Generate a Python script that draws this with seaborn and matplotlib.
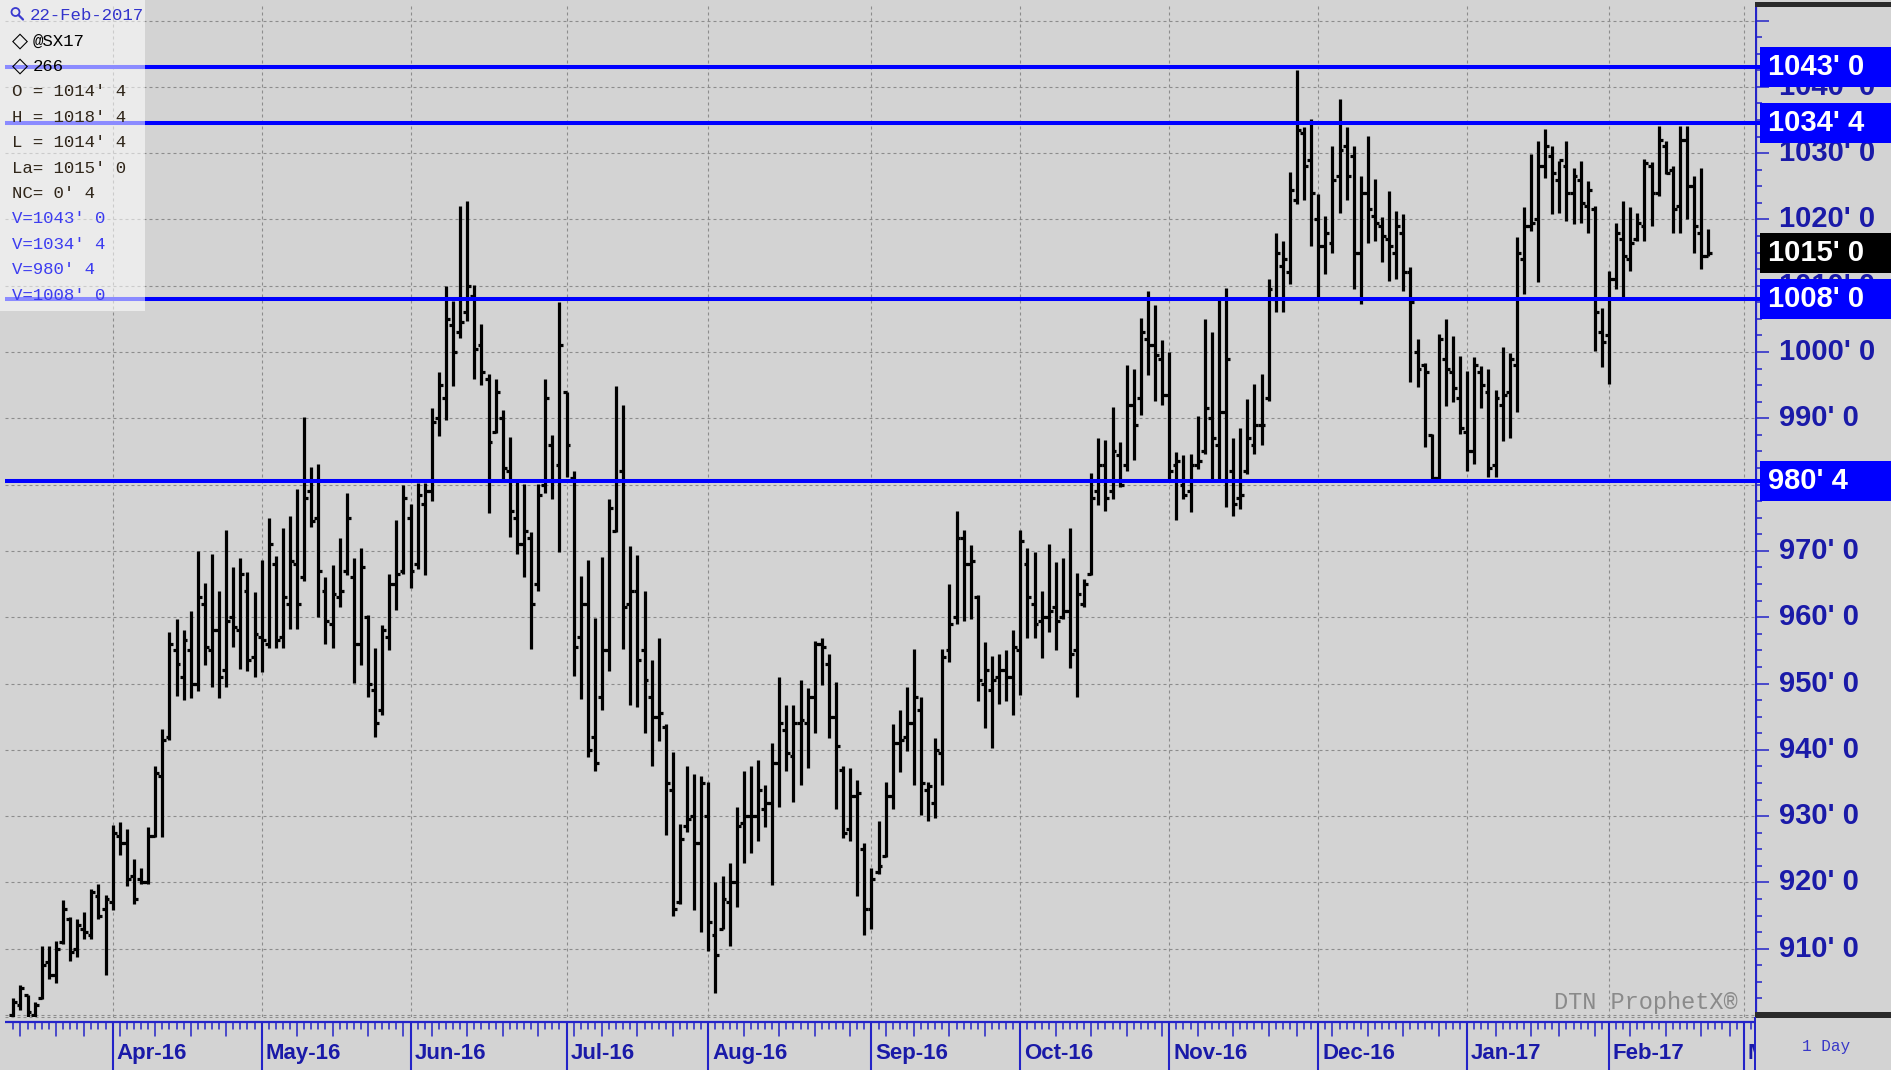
import numpy as np
import pandas as pd
import matplotlib
matplotlib.use("Agg")
import matplotlib.pyplot as plt
from matplotlib.patches import Rectangle, Circle
from matplotlib import font_manager as fm
import seaborn as sns

# ---------------- data ----------------
high = [902.5, 904.6, 903.0, 902.0, 910.4, 910.4, 911.2, 917.3, 914.8, 914.5,
        915.6, 919.0, 919.8, 918.1, 928.6, 929.1, 928.0, 923.6, 922.2, 928.3,
        937.6, 943.1, 957.7, 959.7, 958.0, 961.0, 970.0, 965.2, 969.6, 964.0,
        973.1, 967.6, 969.0, 966.8, 963.8, 968.7, 975.0, 969.2, 973.4, 975.2,
        979.4, 990.2, 982.6, 983.1, 966.0, 967.9, 972.0, 978.8, 969.0, 970.4,
        960.4, 955.4, 958.8, 966.5, 974.7, 979.9, 977.1, 980.2, 980.2, 991.6,
        997.0, 1009.9, 1007.7, 1022.0, 1022.8, 1010.1, 1004.2, 996.7, 996.0, 991.3,
        987.2, 980.4, 980.1, 972.9, 980.1, 996.0, 987.5, 1007.6, 994.0, 982.0,
        966.2, 968.6, 959.9, 969.1, 977.8, 994.9, 992.0, 970.7, 969.4, 964.0,
        953.5, 956.9, 943.9, 939.7, 928.8, 937.6, 936.4, 936.0, 935.1, 920.0,
        920.9, 923.0, 931.3, 936.8, 937.6, 938.5, 934.7, 941.0, 951.0, 946.8,
        946.8, 950.6, 949.3, 956.4, 956.9, 954.4, 950.2, 937.6, 937.2, 935.5,
        925.9, 922.1, 929.2, 935.1, 943.9, 946.0, 949.5, 955.2, 948.0, 935.1,
        941.8, 955.2, 965.0, 976.0, 973.2, 970.9, 963.4, 956.3, 954.1, 954.4,
        955.1, 958.1, 973.2, 970.4, 969.8, 964.0, 971.0, 968.3, 968.9, 973.5,
        966.7, 965.8, 981.8, 987.1, 986.8, 991.7, 986.4, 998.1, 997.5, 1005.2,
        1009.2, 1007.1, 1001.8, 1000.0, 984.9, 984.4, 984.6, 990.4, 1005.0, 1003.0,
        1008.2, 1009.7, 987.1, 988.6, 992.9, 995.2, 996.7, 1011.0, 1018.0, 1016.8,
        1027.1, 1042.6, 1033.9, 1035.1, 1023.8, 1020.5, 1031.1, 1038.1, 1033.9, 1031.1,
        1026.6, 1032.6, 1026.1, 1020.3, 1024.3, 1021.3, 1020.8, 1012.8, 1002.0, 998.4,
        987.6, 1002.7, 1005.0, 1002.4, 999.4, 997.2, 999.2, 997.9, 997.4, 994.2,
        1000.7, 999.9, 1017.3, 1021.8, 1029.8, 1031.8, 1033.6, 1031.1, 1028.8, 1031.8,
        1027.8, 1028.8, 1025.8, 1022.0, 1006.7, 1012.2, 1019.5, 1022.8, 1021.8, 1021.0,
        1029.1, 1028.6, 1034.1, 1031.8, 1028.1, 1034.1, 1034.1, 1026.6, 1027.8, 1018.5]

low = [899.5, 900.8, 899.5, 899.5, 902.4, 905.4, 904.9, 910.7, 908.2, 908.7,
       911.5, 911.5, 914.5, 906.0, 915.9, 924.2, 919.5, 916.7, 919.8, 919.8,
       926.9, 926.9, 941.5, 948.1, 947.5, 947.8, 948.9, 952.8, 949.5, 947.8,
       949.5, 955.5, 952.2, 951.9, 951.0, 951.7, 955.3, 955.3, 955.3, 958.2,
       958.2, 965.5, 973.6, 960.0, 956.0, 955.3, 961.5, 966.3, 950.1, 952.8,
       948.0, 942.0, 945.3, 955.0, 961.1, 966.5, 964.4, 967.3, 966.3, 977.6,
       987.3, 989.7, 994.8, 1002.1, 1004.7, 995.9, 995.0, 975.7, 987.8, 980.6,
       972.1, 969.5, 966.1, 955.2, 964.0, 978.8, 977.8, 969.9, 981.2, 951.1,
       947.7, 938.9, 936.8, 946.0, 951.9, 972.8, 955.2, 946.8, 946.4, 942.6,
       937.6, 941.4, 927.2, 915.0, 916.7, 927.6, 915.9, 912.5, 909.6, 903.3,
       912.9, 910.4, 916.3, 923.0, 924.4, 926.3, 928.4, 919.6, 931.3, 936.8,
       932.2, 934.7, 937.2, 942.6, 949.7, 941.8, 931.0, 926.7, 926.3, 918.0,
       912.1, 912.9, 921.3, 923.8, 931.0, 936.7, 939.8, 934.7, 930.1, 929.2,
       929.7, 934.7, 953.2, 959.0, 959.4, 959.7, 947.3, 943.3, 940.3, 946.9,
       947.3, 945.2, 948.2, 956.9, 956.9, 953.8, 957.8, 955.1, 959.8, 952.3,
       948.0, 961.6, 966.4, 976.9, 976.0, 977.8, 979.7, 982.1, 983.7, 990.5,
       996.6, 992.6, 992.0, 980.5, 974.7, 977.8, 975.8, 982.3, 984.6, 980.6,
       980.6, 976.6, 975.3, 976.3, 981.6, 984.6, 985.9, 992.6, 1006.0, 1006.0,
       1010.2, 1022.3, 1023.0, 1016.0, 1008.0, 1011.7, 1015.0, 1021.0, 1023.0, 1009.5,
       1007.2, 1016.5, 1016.8, 1013.5, 1010.7, 1011.0, 1009.2, 995.4, 994.7, 985.6,
       980.6, 980.6, 991.9, 992.4, 987.6, 982.1, 983.1, 991.6, 981.1, 981.1,
       986.6, 987.1, 990.9, 1008.7, 1018.3, 1010.5, 1026.3, 1020.8, 1021.0, 1019.8,
       1019.3, 1019.5, 1017.9, 1000.2, 997.7, 995.2, 1009.5, 1008.2, 1012.2, 1016.8,
       1016.8, 1019.0, 1023.6, 1026.8, 1018.0, 1018.0, 1020.0, 1015.0, 1012.5, 1014.5]

open_ = [900.0, 901.5, 903.0, 900.0, 902.5, 908.0, 906.0, 911.0, 914.5, 910.0,
         913.0, 912.0, 918.0, 916.0, 917.0, 927.0, 926.0, 921.0, 920.5, 920.0,
         927.0, 936.0, 942.0, 955.0, 951.0, 955.0, 950.0, 962.0, 955.0, 958.0,
         952.0, 960.0, 958.0, 964.0, 954.0, 957.0, 956.0, 968.0, 957.0, 962.0,
         968.0, 966.0, 979.0, 975.0, 964.0, 959.0, 963.0, 967.0, 966.0, 956.0,
         960.0, 949.0, 946.0, 957.0, 965.0, 967.0, 975.0, 968.0, 977.0, 979.0,
         990.0, 993.0, 1004.0, 1003.0, 1006.0, 1008.5, 1001.0, 996.0, 988.0, 990.0,
         982.0, 975.0, 971.0, 972.0, 965.0, 980.0, 986.0, 983.0, 994.0, 981.0,
         957.0, 962.0, 942.0, 948.0, 955.0, 973.0, 982.0, 962.0, 964.0, 955.0,
         948.0, 945.0, 943.5, 934.0, 917.0, 928.5, 930.0, 926.0, 930.0, 912.0,
         913.0, 917.0, 920.0, 929.0, 930.0, 930.0, 931.0, 932.0, 938.0, 943.0,
         939.0, 944.0, 944.0, 948.0, 956.0, 953.0, 945.0, 937.0, 928.0, 933.0,
         925.0, 916.0, 921.5, 924.0, 933.0, 941.0, 942.0, 944.0, 946.0, 934.0,
         932.0, 939.5, 955.0, 960.0, 972.0, 968.0, 963.0, 950.0, 949.0, 951.0,
         952.0, 951.0, 955.0, 968.0, 962.0, 959.5, 960.0, 961.5, 960.0, 961.0,
         955.0, 962.0, 966.5, 979.0, 983.0, 979.0, 984.5, 983.0, 992.0, 993.0,
         1002.0, 1001.0, 999.0, 993.5, 983.0, 980.0, 979.0, 983.0, 985.0, 990.0,
         986.0, 991.0, 982.0, 978.0, 982.0, 986.0, 989.0, 993.0, 1008.0, 1013.0,
         1012.0, 1023.0, 1033.0, 1029.0, 1020.0, 1016.0, 1016.5, 1026.5, 1031.0, 1029.5,
         1015.0, 1024.0, 1020.5, 1019.0, 1017.0, 1015.0, 1018.0, 1012.0, 1000.0, 998.0,
         987.5, 981.0, 999.0, 997.0, 993.0, 988.0, 985.0, 997.0, 994.0, 983.0,
         992.0, 994.0, 998.0, 1014.0, 1019.0, 1020.0, 1028.0, 1029.5, 1026.0, 1028.0,
         1024.0, 1026.0, 1022.0, 1021.5, 1003.0, 1002.5, 1011.0, 1017.0, 1014.0, 1017.0,
         1019.0, 1028.0, 1024.0, 1031.0, 1027.5, 1022.0, 1032.0, 1025.0, 1018.0, 1014.5]

close = [902.0, 904.0, 900.5, 901.5, 907.5, 906.0, 910.0, 916.0, 909.5, 913.5,
         912.5, 918.5, 915.0, 917.5, 927.5, 926.0, 920.5, 917.5, 920.0, 927.0,
         936.5, 941.5, 956.0, 953.0, 956.5, 950.0, 963.0, 955.5, 958.0, 951.0,
         959.5, 958.5, 966.5, 953.5, 957.5, 956.5, 971.0, 956.5, 963.0, 968.5,
         962.0, 978.0, 974.5, 967.0, 959.5, 963.5, 964.0, 975.0, 956.0, 967.5,
         950.0, 944.0, 958.0, 965.0, 966.5, 978.0, 967.0, 978.5, 979.0, 989.5,
         995.0, 1005.0, 1000.0, 1004.5, 1010.0, 1000.5, 997.0, 986.5, 994.0, 982.5,
         976.0, 971.0, 973.0, 962.0, 978.5, 993.0, 980.5, 1001.0, 986.0, 955.5,
         962.0, 940.0, 938.0, 955.0, 976.5, 980.5, 961.5, 964.0, 953.5, 950.5,
         945.0, 945.5, 935.0, 916.0, 926.5, 929.5, 926.0, 935.0, 914.0, 909.0,
         917.5, 920.0, 928.5, 930.0, 930.0, 934.0, 932.0, 938.0, 944.0, 939.5,
         944.0, 944.5, 948.0, 956.0, 955.5, 945.0, 940.5, 927.5, 933.0, 933.5,
         916.0, 920.5, 922.5, 933.0, 941.0, 941.5, 944.0, 948.0, 935.0, 934.5,
         940.0, 954.0, 959.0, 972.0, 968.0, 968.5, 950.5, 952.0, 950.5, 952.0,
         951.0, 955.5, 971.5, 963.0, 959.0, 960.0, 961.0, 959.5, 961.0, 954.5,
         963.5, 965.0, 978.0, 983.0, 978.0, 985.0, 980.0, 992.0, 989.0, 1003.0,
         1001.0, 999.5, 993.5, 982.0, 983.5, 978.5, 983.0, 983.5, 991.5, 987.0,
         991.0, 999.0, 977.0, 978.5, 987.0, 989.0, 989.0, 1009.5, 1015.0, 1014.0,
         1024.5, 1033.5, 1028.0, 1024.0, 1016.0, 1018.0, 1026.0, 1030.5, 1026.5, 1015.0,
         1024.0, 1021.5, 1019.5, 1017.5, 1016.0, 1019.0, 1012.0, 1007.5, 997.5, 997.0,
         981.0, 1002.0, 997.5, 994.5, 988.5, 985.0, 998.0, 995.0, 982.5, 993.0,
         993.5, 999.0, 1015.0, 1019.0, 1019.5, 1028.0, 1031.0, 1027.0, 1029.0, 1024.0,
         1026.5, 1022.5, 1024.5, 1006.0, 1001.5, 1011.0, 1018.0, 1014.5, 1016.5, 1019.5,
         1028.5, 1024.0, 1032.0, 1027.0, 1021.5, 1032.0, 1025.0, 1019.0, 1014.5, 1015.0]

levels = [1043.0, 1034.5, 1008.0, 980.5]
level_labels = ["1043' 0", "1034' 4", "1008' 0", "980' 4"]
last_price = 1015.0
last_label = "1015' 0"
price_ticks = [910, 920, 930, 940, 950, 960, 970, 980, 990, 1000, 1010, 1020, 1030, 1040]
month_labels = ["Apr-16", "May-16", "Jun-16", "Jul-16", "Aug-16", "Sep-16",
                "Oct-16", "Nov-16", "Dec-16", "Jan-17", "Feb-17", "Mar-17"]
holidays = ["2016-03-25", "2016-05-30", "2016-07-04", "2016-09-05", "2016-11-24",
            "2016-12-26", "2017-01-02", "2017-01-16", "2017-02-20"]
info_lines = ["22-Feb-2017", "@SX17", "266", "O = 1014' 4", "H = 1018' 4",
              "L = 1014' 4", "La= 1015' 0", "NC= 0' 4", "V=1043' 0",
              "V=1034' 4", "V=980' 4", "V=1008' 0"]

# ---------------- trading-day calendar (x axis) ----------------
days = pd.bdate_range("2016-03-11", "2017-03-03")
days = days[~days.isin(pd.to_datetime(holidays))]
n = len(high)
day_idx = np.arange(len(days))
month_start = [i for i in range(1, len(days)) if days[i].month != days[i - 1].month]
week_start = [i for i in range(1, len(days)) if days[i].isocalendar()[1] != days[i - 1].isocalendar()[1]]

# ---------------- style ----------------
W, H = 1891, 1070
BG = "#d3d3d3"
sns.set_style("white")
plt.rcParams["font.family"] = ["Liberation Sans", "DejaVu Sans"]
names = {f.name for f in fm.fontManager.ttflist}
narrow = "Liberation Sans Narrow" in names
AX_FONT = ["Liberation Sans Narrow", "Liberation Sans", "DejaVu Sans"] if narrow else ["Liberation Sans", "DejaVu Sans"]
AX_SIZE = 25 if narrow else 21
MON_SIZE = 19.5 if narrow else 16
MONO = ["Liberation Mono", "DejaVu Sans Mono"]
AXBLUE = "#1a1aa8"
LINEBLUE = "#0000ff"

fig = plt.figure(figsize=(W / 100, H / 100), dpi=100, facecolor=BG)

# pixel geometry
PL, PR, PT, PB = 5, 1755, 3, 1016.7
x_per_day, x0 = 7.0915, 13.4
y_per_pt, y1000 = 6.63, 352.0
xlim = ((PL - x0) / x_per_day, (PR - x0) / x_per_day)
ylim = (1000 - (PB - y1000) / y_per_pt, 1000 + (y1000 - PT) / y_per_pt)

def frac(l, t, r, b):
    return [l / W, 1 - b / H, (r - l) / W, (b - t) / H]

ax = fig.add_axes(frac(PL, PT, PR, PB))
ax.set_facecolor(BG)
ax.set_xlim(*xlim)
ax.set_ylim(*ylim)
for s in ax.spines.values():
    s.set_visible(False)
ax.set_xticks(month_start)
ax.set_yticks(np.arange(900, 1051, 10))
ax.tick_params(length=0, labelbottom=False, labelleft=False)
ax.grid(True, color="#8c8c8c", linestyle=(0, (2.7, 2.7)), linewidth=0.8)
ax.set_axisbelow(True)

# OHLC bars via seaborn lineplot (one unit per segment)
TICK = 0.55
sx, sy, sid = [], [], []
for i in range(n):
    sx += [i, i]; sy += [low[i], high[i]]; sid += [3 * i] * 2
    sx += [i - TICK, i]; sy += [open_[i], open_[i]]; sid += [3 * i + 1] * 2
    sx += [i, i + TICK]; sy += [close[i], close[i]]; sid += [3 * i + 2] * 2
segs = pd.DataFrame({"x": sx, "price": sy, "seg": sid})
sns.lineplot(data=segs, x="x", y="price", units="seg", estimator=None, sort=False,
             color="black", linewidth=2.3, solid_capstyle="butt", ax=ax, legend=False)
ax.set_xlabel(""); ax.set_ylabel("")
ax.set_xlim(*xlim); ax.set_ylim(*ylim)

for lv in levels:
    ax.axhline(lv, color=LINEBLUE, linewidth=2.9, zorder=5)

# ---------------- right price axis ----------------
rax = fig.add_axes(frac(PR, PT, W, PB))
rax.set_facecolor(BG)
rax.set_xlim(0, W - PR)
rax.set_ylim(*ylim)
rax.axis("off")
rax.axvline(0.8, color="#2424c8", linewidth=1.6)
for p in np.arange(900, 1052.6, 2.5):
    ln = 14 if p % 10 == 0 else 7
    rax.plot([0, ln], [p, p], color="#2424c8", linewidth=1.1, solid_capstyle="butt")
for p in price_ticks:
    rax.text(24, p, f"{p}' 0", color=AXBLUE, fontsize=AX_SIZE, family=AX_FONT,
             fontweight="bold", va="center", ha="left", zorder=2)
box_h = 40 / y_per_pt
for lv, lab in zip(levels, level_labels):
    rax.plot([0, 6], [lv, lv], color=LINEBLUE, linewidth=2.9, solid_capstyle="butt", zorder=3)
    rax.add_patch(Rectangle((5, lv - box_h / 2), W - PR - 5, box_h, facecolor=LINEBLUE,
                            edgecolor="none", zorder=4))
    rax.text(13, lv, lab, color="white", fontsize=AX_SIZE, family=AX_FONT,
             fontweight="bold", va="center", ha="left", zorder=5)
rax.add_patch(Rectangle((5, last_price - box_h / 2), W - PR - 5, box_h, facecolor="black",
                        edgecolor="none", zorder=4))
rax.text(13, last_price, last_label, color="white", fontsize=AX_SIZE, family=AX_FONT,
         fontweight="bold", va="center", ha="left", zorder=5)

# ---------------- bottom date strip ----------------
bax = fig.add_axes(frac(PL, PB, PR, H))
bax.set_facecolor(BG)
bax.set_xlim(*xlim)
bax.set_ylim(H - PB, 0)
bax.axis("off")
bax.axhline(0.6, color="#8c8c8c", linewidth=0.8, linestyle=(0, (2.7, 2.7)))
bax.axhline(5.3, color="#2424c8", linewidth=1.6)
for i in day_idx:
    if i in month_start:
        bax.plot([i, i], [5.3, H - PB], color="#2424c8", linewidth=1.5)
    elif i in week_start:
        bax.plot([i, i], [5.3, 19], color="#2424c8", linewidth=1.1)
    else:
        bax.plot([i, i], [5.3, 12], color="#2424c8", linewidth=1.1)
for i, lab in zip(month_start, month_labels):
    bax.text(i + 0.55, 36.5, lab, color=AXBLUE, fontsize=MON_SIZE, family=AX_FONT,
             fontweight="bold", va="center", ha="left", clip_on=True)

# ---------------- overlay in pixel coordinates ----------------
oax = fig.add_axes([0, 0, 1, 1], zorder=10)
oax.set_xlim(0, W)
oax.set_ylim(H, 0)
oax.axis("off")
oax.patch.set_alpha(0)
oax.add_patch(Rectangle((0, 0), 145, 311, facecolor="white", alpha=0.55, edgecolor="none"))
oax.add_patch(Rectangle((PR, 2), W - PR, 5, facecolor="#2a2a2a", edgecolor="none"))
oax.add_patch(Rectangle((PR, 1011.5), W - PR, 6, facecolor="#2a2a2a", edgecolor="none"))
oax.add_patch(Rectangle((PR - 0.8, PB), 1.6, H - PB, facecolor="#2424c8", edgecolor="none"))
# magnifier icon
oax.add_patch(Circle((15.5, 12), 4, facecolor="none", edgecolor="#3a3ad0", linewidth=1.3))
oax.plot([18.5, 23], [15, 19.5], color="#3a3ad0", linewidth=1.6)

line_y = [15.7 + 25.4 * k for k in range(len(info_lines))]
colors = ["#3333cc", "black", "black"] + ["#30261a"] * 5 + ["#3c3cf0"] * 4
for k, (txt, yy, c) in enumerate(zip(info_lines, line_y, colors)):
    if k == 0:
        oax.text(30, yy, txt, color=c, fontsize=12.5, family=MONO, va="center", ha="left")
    elif k in (1, 2):
        oax.text(12, yy, "\u25c7", color="black", fontsize=15, family=["DejaVu Sans", "DejaVu Sans Mono"],
                 fontweight="bold", va="center", ha="left")
        oax.text(33, yy, txt, color=c, fontsize=12.5, family=MONO, va="center", ha="left")
    else:
        oax.text(12.5, yy, txt, color=c, fontsize=12.5, family=MONO, va="center", ha="left")

oax.text(1738, 1002, "DTN ProphetX\u00ae", color="#8a8a8a", fontsize=17, family=MONO,
         va="center", ha="right")
oax.text(1826, 1047, "1 Day", color="#3838c8", fontsize=11.5, family=MONO,
         va="center", ha="center")

fig.savefig("out.png", dpi=100, facecolor=BG)
